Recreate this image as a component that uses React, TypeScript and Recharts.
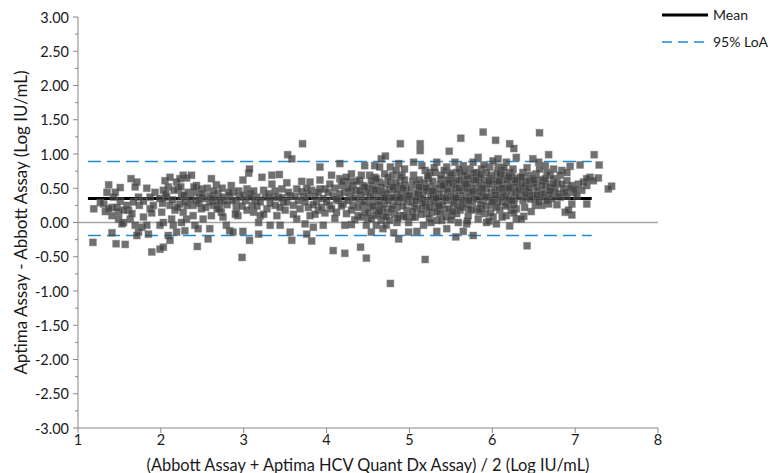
import { ScatterChart, Scatter, XAxis, YAxis } from 'recharts';

// Bland-Altman: difference vs. average
const meanDiff = 0.35;
const upperLoA = 0.89;
const lowerLoA = -0.19;
const lineStart = 1.12;
const lineEnd = 7.2;

const xTicks = [1, 2, 3, 4, 5, 6, 7, 8];
const yTicks = [
  -3, -2.75, -2.5, -2.25, -2, -1.75, -1.5, -1.25, -1, -0.75, -0.5, -0.25, 0,
  0.25, 0.5, 0.75, 1, 1.25, 1.5, 1.75, 2, 2.25, 2.5, 2.75, 3,
];

// [average, difference]
const pointsLow: [number, number][] = [
  [1.19, 0.2], [1.18, -0.29], [1.31, 0.27], [1.35, 0.44], [1.37, 0.55], [1.43, 0.37], [1.33, 0.16],
  [1.41, 0.22], [1.41, -0.15], [1.46, -0.31], [1.45, 0.44], [1.51, 0.51], [1.49, 0.15], [1.41, 0.1],
  [1.49, 0.05], [1.55, 0.0], [1.61, 0.18], [1.57, -0.32], [1.53, -0.02], [1.63, 0.05], [1.65, 0.13],
  [1.64, 0.64], [1.71, 0.59], [1.69, 0.52], [1.74, 0.25], [1.73, 0.37], [1.69, -0.04], [1.73, -0.14],
  [1.71, -0.19], [1.79, 0.08], [1.77, -0.07], [1.83, 0.5], [1.83, -0.04], [1.85, -0.17], [1.89, -0.43],
  [1.87, 0.2], [1.91, 0.25], [1.89, 0.14], [1.93, 0.44], [1.99, -0.39], [2.03, -0.36], [1.99, 0.35],
  [2.01, 0.15], [2.03, 0.0], [1.99, -0.04], [2.05, 0.61], [2.11, 0.66], [2.03, 0.47], [2.09, 0.52],
  [2.07, 0.37], [2.11, 0.25], [2.09, -0.19], [2.11, -0.26], [2.15, -0.04], [2.19, -0.14], [2.13, 0.05],
  [2.17, 0.18], [2.19, 0.59], [2.23, 0.64], [2.27, 0.69], [2.31, 0.65], [2.21, 0.49], [2.25, 0.39],
  [2.23, 0.27], [2.29, 0.3], [2.27, 0.15], [2.31, 0.05], [2.25, 0.0], [2.29, -0.12], [2.33, 0.44],
  [1.27, 0.29], [1.51, 0.31], [1.59, 0.25], [1.67, 0.3], [1.79, 0.31], [1.87, 0.37], [1.55, 0.18],
  [1.37, 0.2], [1.47, 0.22],
];

const pointsMidLow: [number, number][] = [
  [2.37, 0.69], [2.44, -0.35], [2.43, 0.54], [2.41, 0.44], [2.39, 0.25], [2.39, 0.1], [2.41, -0.04],
  [2.45, -0.09], [2.49, 0.49], [2.51, 0.35], [2.49, 0.2], [2.51, 0.05], [2.47, 0.37], [2.57, -0.24],
  [2.59, -0.09], [2.61, 0.1], [2.61, 0.64], [2.63, 0.25], [2.59, 0.39], [2.67, 0.55], [2.69, 0.42],
  [2.67, 0.3], [2.73, 0.15], [2.71, 0.2], [2.75, 0.08], [2.77, 0.32], [2.79, -0.04], [2.83, -0.12],
  [2.87, -0.14], [2.85, 0.54], [2.87, 0.44], [2.83, 0.39], [2.91, 0.3], [2.93, 0.1], [2.91, 0.2],
  [2.95, 0.37], [2.99, 0.62], [2.98, -0.51], [2.99, -0.13], [3.02, 0.32], [3.06, 0.72], [3.07, 0.78],
  [3.07, -0.26], [3.04, 0.49], [3.08, 0.42], [3.1, 0.25], [3.12, 0.15], [3.14, 0.32], [3.18, 0.0],
  [3.2, 0.1], [3.18, -0.17], [3.22, 0.66], [3.24, 0.47], [3.26, 0.37], [3.28, 0.2], [3.32, -0.04],
  [3.34, 0.69], [3.34, 0.56], [3.36, 0.37], [3.38, 0.25], [3.4, 0.1], [3.44, -0.04], [3.43, 0.7],
  [3.46, 0.49], [3.48, 0.3], [3.5, 0.18], [3.52, 0.58], [3.53, 0.99], [3.58, 0.93], [3.56, -0.14],
  [3.58, -0.26], [3.56, 0.39], [3.6, 0.25], [3.64, 0.49], [3.64, 0.05], [3.66, 0.32], [3.16, 0.37],
  [2.59, 0.3], [2.43, 0.32], [2.75, 0.37], [3.08, 0.37], [3.42, 0.37],
];

const pointsMid: [number, number][] = [
  [3.71, 1.15], [4.89, 1.15], [3.92, 0.81], [4.16, 0.86], [4.06, 0.69], [4.16, 0.64], [4.3, 0.71],
  [4.28, 0.6], [4.42, 0.69], [4.46, 0.83], [4.52, 0.69], [4.58, 0.66], [4.58, 0.83], [4.66, 0.93],
  [4.71, 0.97], [4.77, 0.81], [4.87, 0.86], [4.91, 0.69], [4.08, -0.41], [4.22, -0.45], [4.41, -0.36],
  [4.48, -0.52], [4.77, -0.89], [3.82, -0.27], [3.76, -0.17], [3.74, -0.02], [3.84, -0.07], [3.96, -0.04],
  [4.22, -0.04], [4.3, -0.03], [4.54, -0.14], [4.81, -0.15], [4.87, -0.24], [4.99, -0.14], [3.8, 0.59],
  [3.82, 0.47], [3.72, 0.37], [3.78, 0.22], [3.8, 0.1], [3.92, 0.49], [3.96, 0.35], [3.9, 0.18],
  [3.98, 0.49], [4.04, 0.25], [4.08, 0.39], [4.12, 0.15], [4.18, 0.54], [4.2, 0.27], [4.24, 0.13],
  [4.28, 0.37], [4.32, 0.25], [4.36, 0.47], [4.4, 0.32], [4.46, 0.15], [4.48, 0.44], [4.5, 0.05],
  [4.54, 0.3], [4.56, 0.54], [4.6, 0.18], [4.64, 0.42], [4.66, 0.03], [4.7, 0.27], [4.72, 0.56],
  [4.74, 0.15], [4.78, 0.37], [4.82, 0.49], [4.85, 0.22], [4.89, 0.1], [4.93, 0.35], [4.95, 0.54],
  [4.97, 0.18], [4.99, 0.0], [4.48, -0.04], [4.6, -0.04], [4.68, -0.09], [4.72, -0.04], [3.88, 0.3],
  [4.14, 0.32], [4.44, 0.25], [4.64, 0.25], [4.8, 0.25], [4.68, 0.44], [4.52, 0.42], [4.85, 0.44],
  [4.89, 0.54], [4.77, 0.59], [4.64, 0.59], [4.54, 0.61], [4.44, 0.54], [4.32, 0.54], [4.89, 0.66],
  [4.8, 0.69], [4.7, 0.71], [4.64, 0.81], [4.54, 0.05], [4.58, 0.1], [4.68, 0.1], [4.76, 0.03],
  [4.85, 0.0], [4.93, 0.1], [4.97, 0.3], [4.38, 0.1],
];

const pointsMidHigh: [number, number][] = [
  [5.13, 1.15], [5.89, 1.32], [5.62, 1.23], [6.04, 1.2], [6.21, 1.15], [6.26, 1.08], [5.13, 1.05],
  [5.48, 1.04], [5.83, 0.95], [6.07, 0.93], [5.19, -0.54], [5.56, -0.21], [5.77, -0.19], [5.65, -0.13],
  [6.21, -0.05], [5.69, -0.02], [5.93, 0.0], [6.05, -0.02], [5.45, -0.09], [5.33, -0.13], [5.09, -0.13],
  [5.17, -0.04], [5.05, 0.88], [5.19, 0.76], [5.33, 0.88], [5.31, 0.73], [5.45, 0.81], [5.49, 0.69],
  [5.65, 0.83], [5.73, 0.78], [5.71, 0.64], [5.87, 0.78], [5.97, 0.81], [6.07, 0.81], [6.17, 0.88],
  [6.21, 0.73], [6.29, 0.95], [6.29, 0.64], [5.05, 0.69], [5.09, 0.56], [5.07, 0.39], [5.09, 0.2],
  [5.07, 0.08], [5.17, 0.49], [5.19, 0.3], [5.21, 0.13], [5.23, 0.64], [5.29, 0.42], [5.31, 0.22],
  [5.33, 0.03], [5.37, 0.56], [5.41, 0.37], [5.43, 0.18], [5.39, 0.03], [5.49, 0.49], [5.53, 0.27],
  [5.51, 0.1], [5.57, 0.59], [5.61, 0.39], [5.61, 0.18], [5.59, 0.0], [5.67, 0.52], [5.69, 0.27],
  [5.71, 0.1], [5.77, 0.64], [5.79, 0.42], [5.81, 0.2], [5.83, 0.05], [5.87, 0.54], [5.89, 0.32],
  [5.91, 0.13], [5.97, 0.64], [5.99, 0.44], [5.99, 0.25], [6.01, 0.08], [6.07, 0.56], [6.09, 0.37],
  [6.09, 0.18], [6.15, 0.69], [6.17, 0.47], [6.19, 0.27], [6.17, 0.1], [6.27, 0.52], [6.27, 0.35],
  [6.29, 0.2], [6.29, 0.05], [5.03, 0.3], [5.13, 0.35], [5.25, 0.32], [5.35, 0.27], [5.45, 0.32],
  [5.55, 0.42], [5.65, 0.32], [5.75, 0.37], [5.85, 0.44], [5.93, 0.49], [6.03, 0.47], [6.13, 0.42],
  [6.23, 0.44], [5.11, 0.47], [5.25, 0.52], [5.41, 0.49], [5.53, 0.56], [5.63, 0.69], [5.83, 0.59],
  [5.99, 0.69], [6.11, 0.64], [6.23, 0.59], [5.15, 0.2], [5.27, 0.15], [5.37, 0.13], [5.57, 0.13],
  [5.75, 0.18], [5.87, 0.2], [6.05, 0.22], [6.23, 0.18], [5.25, 0.73], [5.39, 0.69], [5.57, 0.73],
  [5.81, 0.73], [5.93, 0.73], [6.11, 0.76], [6.25, 0.78], [5.55, 0.88], [6.01, 0.9], [5.15, 0.83],
  [5.77, 0.88],
];

const pointsHigh: [number, number][] = [
  [6.57, 1.31], [6.68, 0.99], [7.23, 0.99], [7.29, 0.84], [7.06, 0.84], [6.94, 0.82], [6.49, 0.93],
  [6.56, 0.88], [6.64, 0.83], [6.84, 0.76], [6.9, 0.73], [7.18, 0.66], [7.28, 0.65], [7.44, 0.53],
  [7.4, 0.49], [7.14, 0.27], [6.96, 0.27], [6.78, 0.26], [6.88, 0.15], [6.96, 0.11], [6.92, 0.18],
  [6.6, 0.25], [6.47, 0.16], [6.39, 0.22], [6.38, 0.09], [6.35, 0.05], [6.42, -0.34], [6.37, 0.73],
  [6.41, 0.59], [6.45, 0.69], [6.53, 0.71], [6.62, 0.61], [6.7, 0.69], [6.74, 0.64], [6.78, 0.59],
  [6.82, 0.69], [6.9, 0.61], [6.96, 0.54], [7.04, 0.56], [7.1, 0.59], [7.14, 0.54], [7.08, 0.47],
  [6.98, 0.44], [6.86, 0.49], [6.74, 0.44], [6.64, 0.47], [6.53, 0.52], [6.45, 0.44], [6.37, 0.47],
  [6.41, 0.37], [6.52, 0.35], [6.62, 0.37], [6.72, 0.35], [6.82, 0.37], [6.9, 0.39], [7.02, 0.39],
  [6.52, 0.25], [6.68, 0.27], [6.37, 0.32], [6.57, 0.78], [6.74, 0.78], [6.66, 0.73], [6.49, 0.64],
  [7.22, 0.61], [7.14, 0.64],
];

// the dense core of the cloud
const pointsCore: [number, number][] = [
  [2.02, 0.28], [2.06, 0.42], [2.14, 0.33], [2.16, 0.47], [2.2, 0.22], [2.24, 0.52], [2.28, 0.4],
  [2.32, 0.25], [2.36, 0.34], [2.4, 0.52], [2.46, 0.28], [2.5, 0.42], [2.54, 0.22], [2.56, 0.5],
  [2.62, 0.36], [2.64, 0.46], [2.68, 0.2], [2.72, 0.3], [2.74, 0.5], [2.8, 0.26], [2.82, 0.44],
  [2.86, 0.32], [2.9, 0.12], [2.94, 0.46], [2.98, 0.24], [3.0, 0.4], [3.04, 0.18], [3.12, 0.46],
  [3.16, 0.24], [3.2, 0.3], [3.24, 0.12], [3.3, 0.42], [3.32, 0.28], [3.38, 0.46], [3.44, 0.22],
  [3.46, 0.36], [3.52, 0.3], [3.54, 0.44], [3.6, 0.12], [3.62, 0.38], [3.68, 0.2], [3.7, 0.45],
  [3.74, 0.3], [3.78, 0.42], [3.84, 0.26], [3.86, 0.38], [3.9, 0.44], [3.94, 0.22], [4.0, 0.3],
  [4.02, 0.44], [4.06, 0.2], [4.1, 0.5], [4.12, 0.34], [4.18, 0.24], [4.22, 0.44], [4.26, 0.32],
  [4.3, 0.46], [4.34, 0.36], [4.38, 0.22], [4.42, 0.4], [4.46, 0.3], [4.5, 0.5], [4.52, 0.22],
  [4.56, 0.38], [4.6, 0.46], [4.62, 0.3], [4.66, 0.52], [4.68, 0.2], [4.72, 0.42], [4.74, 0.32],
  [4.76, 0.48], [4.8, 0.36], [4.82, 0.12], [4.84, 0.58], [4.86, 0.3], [4.9, 0.42], [4.92, 0.24],
  [4.94, 0.62], [4.96, 0.46], [4.98, 0.38], [4.4, 0.62], [4.6, 0.64], [4.74, 0.66], [4.5, 0.14],
  [4.62, 0.12], [4.72, 0.08], [4.86, 0.06], [4.26, 0.5], [4.16, 0.42], [4.36, 0.6], [4.94, 0.78],
  [4.84, 0.76], [5.02, 0.5], [5.04, 0.6], [5.06, 0.24], [5.1, 0.42], [5.12, 0.62], [5.14, 0.12],
  [5.16, 0.4], [5.18, 0.58], [5.2, 0.24], [5.22, 0.46], [5.24, 0.06], [5.26, 0.38], [5.28, 0.6],
  [5.3, 0.3], [5.32, 0.5], [5.34, 0.16], [5.36, 0.42], [5.38, 0.64], [5.4, 0.26], [5.42, 0.56],
  [5.44, 0.08], [5.46, 0.46], [5.48, 0.2], [5.5, 0.38], [5.52, 0.64], [5.54, 0.3], [5.56, 0.5],
  [5.58, 0.22], [5.6, 0.62], [5.62, 0.3], [5.64, 0.46], [5.66, 0.6], [5.68, 0.36], [5.7, 0.5],
  [5.72, 0.2], [5.74, 0.56], [5.76, 0.3], [5.78, 0.72], [5.8, 0.5], [5.82, 0.34], [5.84, 0.66],
  [5.86, 0.26], [5.88, 0.42], [5.9, 0.62], [5.92, 0.24], [5.94, 0.56], [5.96, 0.36], [5.98, 0.14],
  [6.0, 0.56], [6.02, 0.34], [6.04, 0.62], [6.06, 0.28], [6.08, 0.48], [6.1, 0.7], [6.12, 0.3],
  [6.14, 0.56], [6.16, 0.38], [6.18, 0.62], [6.2, 0.34], [6.22, 0.52], [6.24, 0.68], [6.26, 0.26],
  [6.28, 0.44], [6.3, 0.58], [6.32, 0.38], [6.34, 0.66], [5.3, 0.8], [5.6, 0.78], [5.9, 0.84],
  [6.14, 0.8], [5.46, 0.62], [5.72, 0.44], [6.4, 0.52], [6.44, 0.6], [6.48, 0.4], [6.5, 0.56],
  [6.55, 0.46], [6.58, 0.62], [6.6, 0.42], [6.65, 0.56], [6.68, 0.4], [6.7, 0.52], [6.76, 0.5],
  [6.8, 0.42], [6.84, 0.56], [6.88, 0.44], [6.94, 0.5], [7.0, 0.48], [6.46, 0.34], [6.56, 0.3],
  [6.66, 0.32], [6.42, 0.8],
];

// extra fill where the reference cloud is solid
const pointsDense: [number, number][] = [
  [4.42, 0.08], [4.46, 0.52], [4.56, 0.24], [4.58, 0.48], [4.64, 0.16], [4.7, 0.36], [4.78, 0.2],
  [4.8, 0.52], [4.88, 0.36], [4.92, 0.5], [4.96, 0.08], [5.0, 0.4], [5.04, 0.16], [5.08, 0.32],
  [5.12, 0.52], [5.16, 0.28], [5.2, 0.5], [5.24, 0.22], [5.28, 0.46], [5.32, 0.36], [5.36, 0.24],
  [5.4, 0.54], [5.44, 0.36], [5.48, 0.58], [5.52, 0.16], [5.56, 0.36], [5.6, 0.5], [5.64, 0.22],
  [5.68, 0.56], [5.72, 0.32], [5.76, 0.46], [5.8, 0.62], [5.84, 0.16], [5.88, 0.5], [5.92, 0.38],
  [5.96, 0.6], [6.0, 0.3], [6.04, 0.4], [6.08, 0.6], [6.12, 0.5], [6.16, 0.24], [6.2, 0.5],
  [6.24, 0.32], [6.28, 0.62], [6.32, 0.48], [6.36, 0.56], [6.4, 0.42], [6.44, 0.5], [6.5, 0.62],
  [6.54, 0.4], [6.6, 0.54], [6.64, 0.64], [6.7, 0.46], [6.74, 0.56], [5.5, 0.72], [5.7, 0.68],
  [5.86, 0.7], [6.06, 0.72], [6.2, 0.66], [5.22, 0.68], [5.42, 0.76], [5.66, 0.74], [6.36, 0.66],
  [5.04, 0.08], [5.26, 0.0], [5.5, 0.04], [5.7, 0.02], [5.96, 0.02], [6.12, 0.08], [6.26, 0.14],
  [3.76, 0.5], [3.86, 0.12], [3.98, 0.14], [4.04, 0.56], [4.1, 0.06], [4.2, 0.6], [4.3, 0.18],
  [4.34, 0.04], [4.4, 0.46], [3.92, 0.62], [4.24, 0.66], [3.7, 0.6],
];

const allPoints = [
  ...pointsLow, ...pointsMidLow, ...pointsMid, ...pointsMidHigh, ...pointsHigh, ...pointsCore, ...pointsDense,
].map(([x, y]) => ({ x, y }));
const meanData = [{ x: lineStart, y: meanDiff }, { x: lineEnd, y: meanDiff }];
const upperData = [{ x: lineStart, y: upperLoA }, { x: lineEnd, y: upperLoA }];
const lowerData = [{ x: lineStart, y: lowerLoA }, { x: lineEnd, y: lowerLoA }];
const zeroData = [{ x: 1, y: 0 }, { x: 8, y: 0 }];

const FONT = 'Lato, "Liberation Sans", sans-serif';
const AXIS = '#868686';
const LOA_BLUE = '#1f8bd6';
const TEXT = '#1a1a1a';

const legendItems = [
  { label: 'Mean', color: '#000000', width: 3, dash: undefined as string | undefined },
  { label: '95% LoA', color: LOA_BLUE, width: 1.5, dash: '10 6' },
];

const Square = (props: any) => {
  const { cx, cy } = props;
  if (cx == null || cy == null) return <g />;
  return (
    <rect x={cx - 3.5} y={cy - 3.5} width={7} height={7} fill="#404040" fillOpacity={0.75}
      stroke="#7f7f7f" strokeOpacity={0.4} strokeWidth={1} />
  );
};

const NoDot = () => <g />;

const YTick = (props: any) => {
  const { x, y, payload } = props;
  const v = payload.value as number;
  const major = Math.abs(v * 2 - Math.round(v * 2)) < 1e-6;
  return (
    <g>
      <line x1={x - (major ? 5 : 3)} x2={x} y1={y} y2={y} stroke={AXIS} />
      {major && (
        <text x={x - 9} y={y} textAnchor="end" dominantBaseline="central" fontSize={14.5} fill={TEXT} fontFamily={FONT}>
          {v.toFixed(2)}
        </text>
      )}
    </g>
  );
};

const LegendBox = () => (
  <div style={{ position: 'absolute', top: 1, left: 661, fontFamily: FONT, fontSize: 14, color: TEXT }}>
    {legendItems.map((it) => (
      <div key={it.label} style={{ display: 'flex', alignItems: 'center', height: 27 }}>
        <svg width={50} height={10}>
          <line x1={1} x2={47} y1={5} y2={5} stroke={it.color} strokeWidth={it.width} strokeDasharray={it.dash} />
        </svg>
        <span style={{ marginLeft: 2 }}>{it.label}</span>
      </div>
    ))}
  </div>
);

export default function App() {
  return (
    <div style={{ position: 'absolute', left: 0, top: 0, width: 771, height: 473, background: '#fff' }}>
      <ScatterChart width={771} height={473} margin={{ top: 17, right: 113, bottom: 0, left: 0 }}>
        <XAxis
          type="number"
          dataKey="x"
          domain={[1, 8]}
          ticks={xTicks}
          allowDataOverflow
          height={45}
          stroke={AXIS}
          tickSize={5}
          tick={{ fontSize: 14.5, fill: TEXT, fontFamily: FONT }}
          label={{
            value: '(Abbott Assay + Aptima HCV Quant Dx Assay) / 2 (Log IU/mL)',
            position: 'insideBottom',
            offset: 2,
            fontSize: 16.4,
            fill: TEXT,
            fontFamily: FONT,
          }}
        />
        <YAxis
          type="number"
          dataKey="y"
          domain={[-3, 3]}
          ticks={yTicks}
          allowDataOverflow
          width={78}
          stroke={AXIS}
          tickLine={false}
          tickSize={0}
          tickMargin={0}
          interval={0}
          tick={<YTick />}
          label={(p: any) => {
            const vb = p.viewBox || { y: 17, height: 411 };
            const cy = vb.y + vb.height / 2;
            return (
              <text x={20} y={cy} transform={`rotate(-90, 20, ${cy})`} textAnchor="middle"
                dominantBaseline="central" fontSize={17} fill={TEXT} fontFamily={FONT}>
                Aptima Assay  - Abbott Assay (Log IU/mL)
              </text>
            );
          }}
        />
        <Scatter data={zeroData} line={{ stroke: '#a6a6a6', strokeWidth: 1.5 }} shape={NoDot} isAnimationActive={false} legendType="none" />
        <Scatter data={upperData} line={{ stroke: LOA_BLUE, strokeWidth: 1.5, strokeDasharray: '13 6' }} shape={NoDot} isAnimationActive={false} legendType="none" />
        <Scatter data={lowerData} line={{ stroke: LOA_BLUE, strokeWidth: 1.5, strokeDasharray: '13 6' }} shape={NoDot} isAnimationActive={false} legendType="none" />
        <Scatter data={meanData} line={{ stroke: '#000000', strokeWidth: 3 }} shape={NoDot} isAnimationActive={false} legendType="none" />
        <Scatter data={allPoints} shape={Square} isAnimationActive={false} legendType="none" />
      </ScatterChart>
      <LegendBox />
    </div>
  );
}
